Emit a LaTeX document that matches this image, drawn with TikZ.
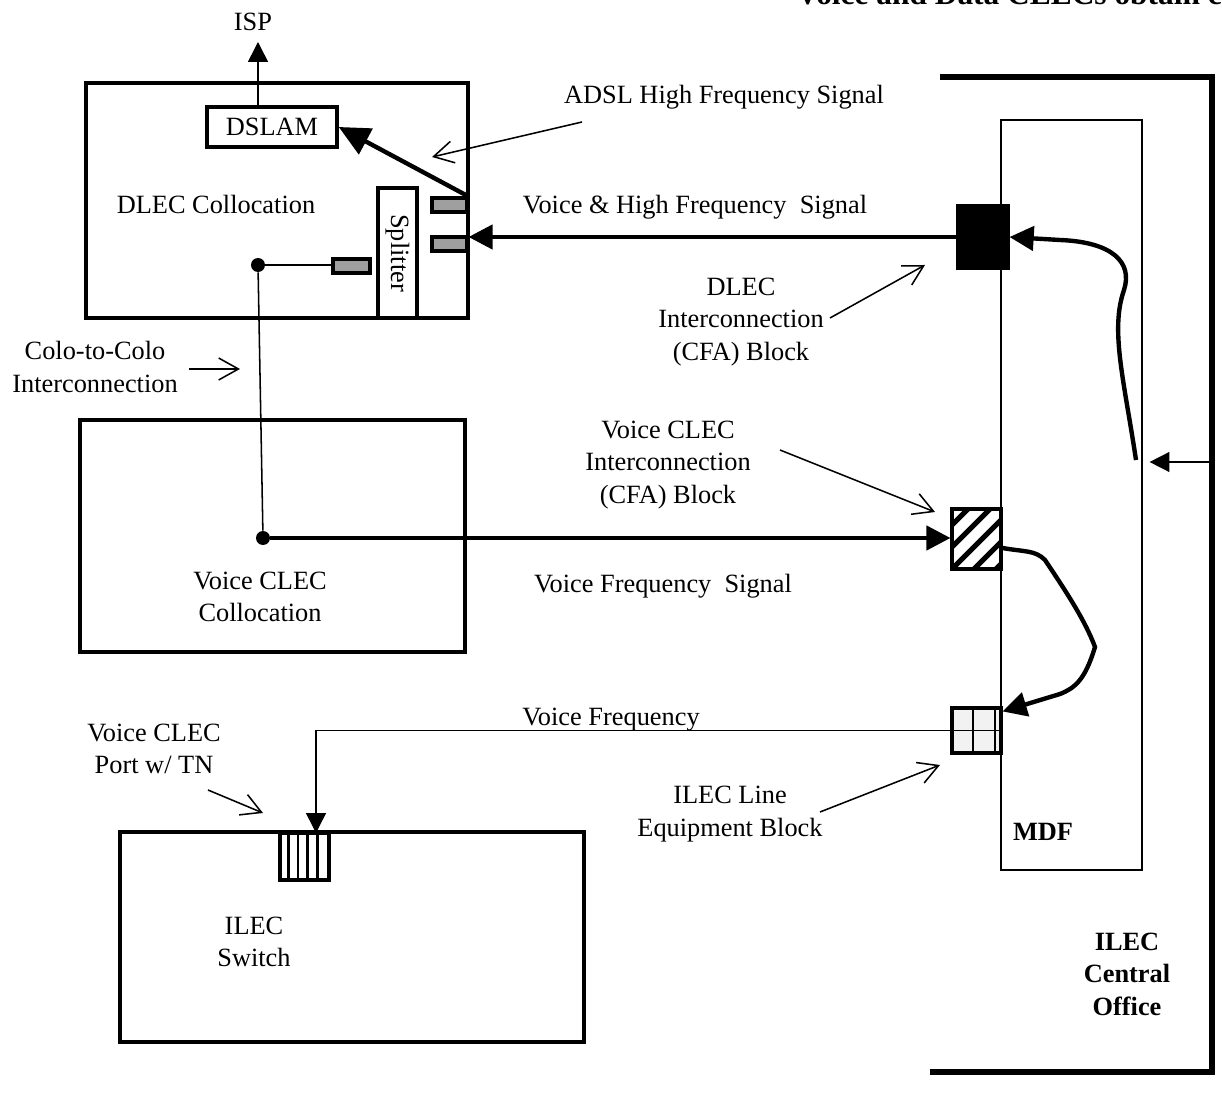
\documentclass[tikz,border=0pt]{standalone}
\usepackage{fontspec}
\setmainfont{Liberation Serif}
\usetikzlibrary{calc,arrows.meta}

\begin{document}
\begin{tikzpicture}[x=0.016cm,y=-0.016cm,
    every node/.style={font=\fontsize{12}{14.8}\selectfont, align=center, inner sep=0pt},
    boldtext/.style={font=\fontsize{12}{14.8}\selectfont\bfseries},
    box/.style args={#1/#2}{draw, line width=1.6pt, minimum width=#1*0.016cm, minimum height=#2*0.016cm},
    grey/.style={box=#1, fill=gray!75, line width=1.4pt},
    block/.style={box=#1, line width=1.4pt},
    dot/.style={circle, fill=black, minimum size=14*0.016cm},
    thick arrow/.style={line width=2pt, -{Triangle[length=11pt,width=11pt]}},
    thin arrow/.style={line width=0.7pt, -{Straight Barb[length=9pt,width=10pt]}},
    wire/.style={line width=0.7pt}]
    \useasboundingbox (0,0) rectangle (1222,1105);
    \clip (0,0) rectangle (1222,1105);

    \node[boldtext, font=\fontsize{14.3}{17}\selectfont\bfseries, anchor=base west] (title) at (796,5) {Voice and Data CLECs obtain c};

    % DLEC collocation
    \node[box=382/235] (dlec) at (277,200.5) {};
    \node[box=130/40] (dslam) at (272,127) {DSLAM};
    \node[box=39/130, fill=white] (split) at (397.5,253) {};
    \node[rotate=-90] (splitt) at (split) {Splitter};
    \node[grey=35/14] (g1) at (449.5,205) {};
    \node[grey=35/14] (g2) at (449.5,244) {};
    \node[grey=37/14] (g3) at (351.5,266) {};
    \node (dlect) at (216,204) {DLEC Collocation};
    \node (ispt) at (253,22) {ISP};

    % voice CLEC collocation and ILEC switch
    \node[box=385/232] (vclec) at (272.5,536) {};
    \node (vclect) at (260,597) {Voice CLEC\\Collocation};
    \node[box=464/210] (sw) at (352,937) {};
    \node (swt) at (254,942) {ILEC\\Switch};
    \node[block=49/47, fill=white] (stripe) at (304.5,856.5) {};
    \foreach \k in {1,...,4}
        \draw[line width=1.3pt] ($(stripe.north west)+(\k*9.8,0)$) -- ($(stripe.south west)+(\k*9.8,0)$);

    % MDF and blocks
    \node[draw, line width=0.9pt, minimum width=141*0.016cm, minimum height=750*0.016cm] (mdf) at (1071.5,495) {};
    \node[boldtext] (mdft) at (1043,832) {MDF};
    \node[block=50/62, fill=black] (blk) at (983,237) {};
    \node[block=49/60] (hatch) at (976.5,539) {};
    \begin{scope}
        \clip (hatch.south west) rectangle (hatch.north east);
        \foreach \k in {-66,-44,...,50}
            \draw[line width=2.4pt] ($(hatch.south west)+(\k,0)$) -- ++(75,-75);
    \end{scope}
    \node[block=49/45, fill=gray!10] (grid) at (976.5,730.5) {};
    \draw[line width=0.9pt] ($(grid.north west)+(23,0)$) -- ($(grid.south west)+(23,0)$)
        ($(grid.north west)+(45,0)$) -- ($(grid.south west)+(45,0)$)
        (grid.west) -- (grid.east);

    % central office bracket
    \draw[line width=2.3pt] (940,77) -- (1212,77) -- (1212,1072) -- (930,1072);
    \node[boldtext] (cot) at (1127,974) {ILEC\\Central\\Office};

    % labels
    \node (adslt) at (724,97) {ADSL High Frequency Signal};
    \node (vhft) at (695,207) {Voice \& High Frequency\ \ Signal};
    \node (dint) at (741,322) {DLEC\\Interconnection\\(CFA) Block};
    \node (colot) at (95,367) {Colo-to-Colo\\Interconnection};
    \node (vint) at (668,465) {Voice CLEC\\Interconnection\\(CFA) Block};
    \node (vfst) at (663,586) {Voice Frequency\ \ Signal};
    \node (vft) at (611,720) {Voice Frequency};
    \node (portt) at (154,749) {Voice CLEC\\Port w/ TN};
    \node (linet) at (730,814) {ILEC Line\\Equipment Block};

    % connectors
    \node[dot] (d1) at (258,265) {};
    \node[dot] (d2) at (263,538) {};
    \coordinate (isptip) at (258,42);
    \coordinate (pin) at (316,833);
    \coordinate (dlecend) at (1136,460);
    \coordinate (cor) at (1212,462);

    \draw[wire, -{Triangle[length=9pt,width=9pt]}] (isptip |- dslam.north) -- (isptip);
    \draw[wire] (d1) -- (d1 -| g3.west);
    \draw[wire] (d1) -- (d2);
    \draw[thick arrow, -{Triangle[length=14pt,width=13pt]}] (g1.north east) -- (dslam.east);
    \draw[thick arrow] (blk.west) -- (blk.west -| g2.east);
    \draw[thick arrow] (d2) -- (d2 -| hatch.west);
    \draw[thick arrow] (dlecend) .. controls (1124,380) and (1110,330) .. (1124,290)
        .. controls (1133,262) and (1112,242) .. (1060,240) -- (blk.east);
    \draw[thick arrow] ($(hatch.east)+(0,9)$) .. controls (1025,552) and (1035,550) .. (1045,560)
        .. controls (1065,590) and (1085,620) .. (1095,647)
        .. controls (1085,680) and (1075,688) .. (1060,694) -- ($(grid.north east)+(0,5)$);
    \draw[wire, -{Triangle[length=9pt,width=9pt]}] (grid.west) -| (pin);
    \draw[wire, shorten >=3pt, -{Triangle[length=9pt,width=9pt]}] (cor) -- (cor -| mdf.east);

    \coordinate (a1) at (582,122); \coordinate (a2) at (432,157);
    \coordinate (b1) at (189,369); \coordinate (b2) at (240,369);
    \coordinate (c1) at (830,318); \coordinate (c2) at (925,265);
    \coordinate (e1) at (780,450); \coordinate (e2) at (935,512);
    \coordinate (f1) at (208,790); \coordinate (f2) at (263,813);
    \coordinate (h1) at (820,812); \coordinate (h2) at (940,765);
    \foreach \i/\j in {a1/a2, b1/b2, c1/c2, e1/e2, f1/f2, h1/h2}
        {\draw[thin arrow] (\i) -- (\j);}
\end{tikzpicture}
\end{document}
